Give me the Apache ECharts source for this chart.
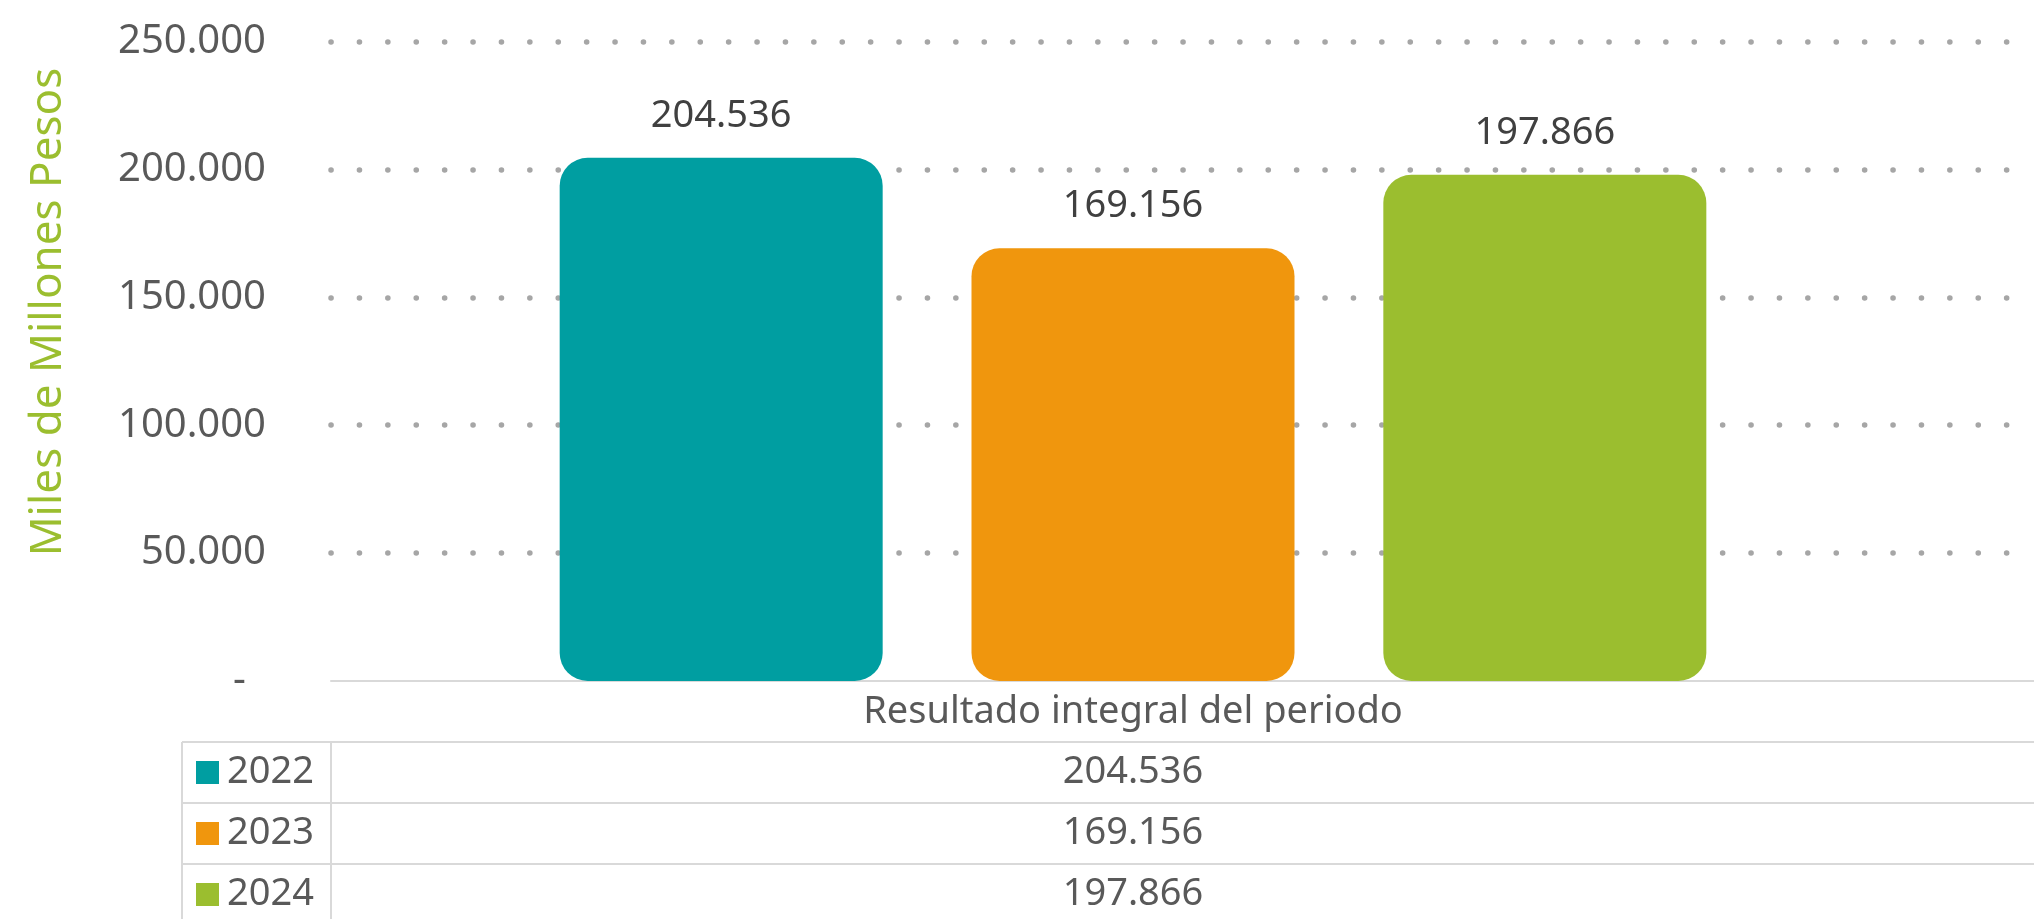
<!DOCTYPE html>
<html>
<head>
<meta charset="utf-8">
<script src="https://cdn.jsdelivr.net/npm/echarts@6/dist/echarts.min.js"></script>
<style>
  html, body { margin: 0; padding: 0; background: #fff; overflow: hidden; }
  #chart { width: 2034px; height: 919px; }
</style>
</head>
<body>
<div id="chart"></div>
<script>
// data
var categories = ['Resultado integral del periodo'];
var years = ['2022', '2023', '2024'];
var values = [204536, 169156, 197866];
var colors = ['#009EA1', '#F0960D', '#9BBE2F'];
var yMin = 0, yMax = 250000, yStep = 50000;

// layout
var plotLeft = 331, plotTop = 41.5, axisY = 681, barRight = 1935;
var tableTop = 742, rowH = 61, tableLeft = 182;
var W = 2034, H = 919;
var font = 'Noto Sans';
var txt = '#595959';
var lineCol = '#D9D9D9';

function fmt(v) {
  return String(v).replace(/\B(?=(\d{3})+(?!\d))/g, '.');
}

var chart = echarts.init(document.getElementById('chart'));

var xAxes = [{
  type: 'category', gridIndex: 0, position: 'bottom', data: categories,
  axisLine: {show: false}, axisTick: {show: false},
  axisLabel: {margin: 31, verticalAlign: 'middle', fontSize: 38, fontFamily: font, color: txt}
}];
years.forEach(function (y, i) {
  xAxes.push({
    type: 'category', gridIndex: 0, position: 'bottom', data: categories,
    axisLine: {show: false}, axisTick: {show: false}, splitLine: {show: false},
    axisLabel: {
      margin: tableTop - axisY + rowH * i + rowH / 2, verticalAlign: 'middle',
      fontSize: 38, fontFamily: font, color: txt,
      formatter: function () { return fmt(values[i]); }
    }
  });
});
xAxes.push({
  type: 'category', gridIndex: 1, position: 'bottom', data: [''],
  axisLine: {show: true, lineStyle: {color: lineCol, width: 2}},
  axisTick: {show: false}, axisLabel: {show: false}
});

var series = years.map(function (y, i) {
  return {
    type: 'bar', name: y, xAxisIndex: 0, yAxisIndex: 0,
    data: [values[i]],
    barWidth: 323, barGap: '27.5%',
    itemStyle: {color: colors[i], borderRadius: 28},
    label: {
      show: true, position: 'top', distance: 23,
      fontSize: 38, fontFamily: font, color: '#404040',
      formatter: function (p) { return fmt(p.value); }
    }
  };
});

// one legend per table row
var legends = years.map(function (y, i) {
  return {
    data: [y], left: 196, top: tableTop + rowH * i + rowH / 2 - 19, padding: 0,
    itemWidth: 23, itemHeight: 23, icon: 'rect', selectedMode: false,
    textStyle: {fontSize: 38, lineHeight: 38, fontFamily: font, color: txt, padding: [0, 0, 0, 3]}
  };
});

// table lines
var graphics = [];
for (var r = 0; r < 4; r++) {
  graphics.push({
    type: 'line', silent: true,
    shape: {x1: tableLeft, y1: tableTop + rowH * r, x2: W, y2: tableTop + rowH * r},
    style: {stroke: lineCol, lineWidth: 2}
  });
}
[tableLeft, plotLeft].forEach(function (x) {
  graphics.push({
    type: 'line', silent: true,
    shape: {x1: x, y1: tableTop, x2: x, y2: H},
    style: {stroke: lineCol, lineWidth: 2}
  });
});
graphics.push({
  type: 'text', x: 48, y: 312, rotation: Math.PI / 2,
  style: {
    text: 'Miles de Millones Pesos', fill: '#9BBE2F',
    font: '44px "' + font + '"', align: 'center', verticalAlign: 'middle'
  }
});

chart.setOption({
  backgroundColor: '#fff',
  animation: false,
  grid: [
    {left: plotLeft, right: W - barRight, top: plotTop, bottom: H - axisY},
    {left: plotLeft, right: 0, top: plotTop, bottom: H - axisY}
  ],
  legend: legends,
  xAxis: xAxes,
  yAxis: [
    {type: 'value', gridIndex: 0, min: yMin, max: yMax, interval: yStep, show: false},
    {
      type: 'value', gridIndex: 1, min: yMin, max: yMax, interval: yStep,
      axisLine: {show: false}, axisTick: {show: false},
      axisLabel: {
        margin: 65, fontSize: 40, fontFamily: font, color: txt,
        formatter: function (v) { return v === 0 ? '{z|-}' : fmt(v); },
        rich: {z: {fontSize: 40, fontFamily: font, color: txt, padding: [0, 20, 0, 0]}}
      },
      splitLine: {
        show: true, showMinLine: false,
        lineStyle: {color: '#A6A6A6', width: 5.5, type: [0.1, 28.3], cap: 'round'}
      }
    }
  ],
  series: series,
  graphic: graphics
});
</script>
</body>
</html>
